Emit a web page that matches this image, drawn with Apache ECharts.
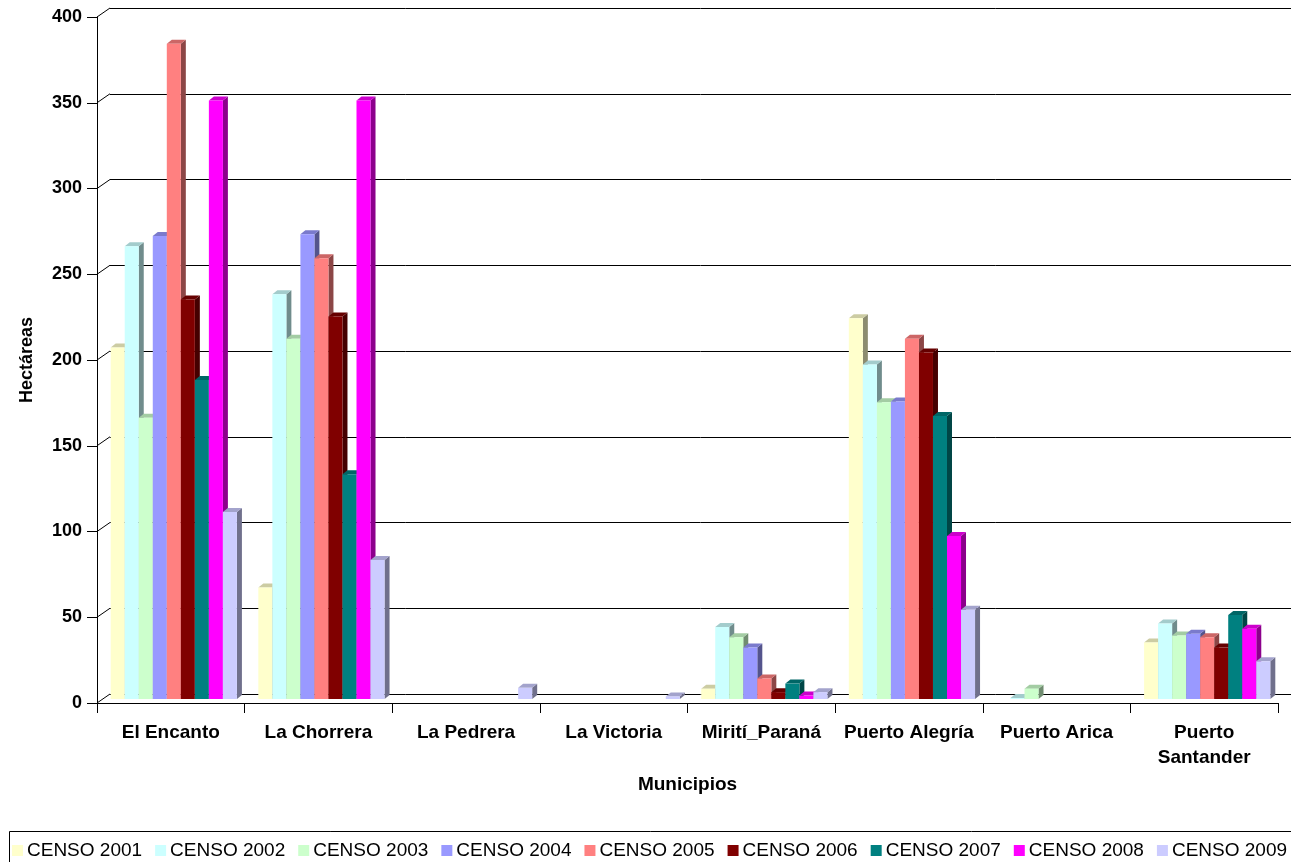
<!DOCTYPE html>
<html>
<head>
<meta charset="utf-8">
<script src="https://cdn.jsdelivr.net/npm/echarts@6/dist/echarts.min.js"></script>
<style>
html,body{margin:0;padding:0;background:#fff;}
#chart{width:1291px;height:862px;}
</style>
</head>
<body>
<div id="chart"></div>
<script>
// ---- data ----
const categories = ['El Encanto', 'La Chorrera', 'La Pedrera', 'La Victoria', 'Mirití_Paraná', 'Puerto Alegría', 'Puerto Arica', 'Puerto\nSantander'];
const seriesNames = ['CENSO 2001', 'CENSO 2002', 'CENSO 2003', 'CENSO 2004', 'CENSO 2005', 'CENSO 2006', 'CENSO 2007', 'CENSO 2008', 'CENSO 2009'];
const censo2001 = [205, 65, null, null, 6, 222, null, 33];
const censo2002 = [264, 236, null, null, 42, 195, 0.6, 44];
const censo2003 = [164, 210, null, null, 36, 173, 6, 37];
const censo2004 = [270, 271, null, null, 30, 173.5, null, 38];
const censo2005 = [382, 257, null, null, 12, 210, null, 36];
const censo2006 = [233, 223, null, null, 4, 202, null, 30];
const censo2007 = [186, 131, null, null, 9, 165, null, 49];
const censo2008 = [349, 349, null, null, 2, 95, null, 41];
const censo2009 = [109, 81, 6.5, 1.5, 4, 52, null, 22];
const yTicks = [0, 50, 100, 150, 200, 250, 300, 350, 400];

const seriesValues = [censo2001, censo2002, censo2003, censo2004, censo2005, censo2006, censo2007, censo2008, censo2009];
const colors = ['#FFFFCC', '#CCFFFF', '#CCFFCC', '#9999FF', '#FF8080', '#800000', '#008080', '#FF00FF', '#CCCCFF'];

function shade(hex, f) {
  const n = parseInt(hex.slice(1), 16);
  const r = Math.round(((n >> 16) & 255) * f), g = Math.round(((n >> 8) & 255) * f), b = Math.round((n & 255) * f);
  return 'rgb(' + r + ',' + g + ',' + b + ')';
}

const FONT = '"Liberation Sans", Arial, sans-serif';
const nSeries = seriesValues.length;

function makeBarSeries(idx) {
  const col = colors[idx];
  return {
    name: seriesNames[idx],
    type: 'custom',
    xAxisIndex: 1,
    yAxisIndex: 1,
    itemStyle: { color: col },
    data: seriesValues[idx].map((v, i) => [i, v == null ? '-' : v]),
    renderItem: function (params, api) {
      const v = api.value(1);
      if (v == null || isNaN(v)) return null;
      const cat = api.value(0);
      const base = api.coord([cat, 0]);
      const top = api.coord([cat, v]);
      const band = api.size([1, 0])[0];
      const groupW = band * 0.855;
      const w = groupW / nSeries;
      const x0 = base[0] - groupW / 2 + 3 + idx * w;
      const yb = base[1] - 4;
      const yt = top[1] - 4;
      const dx = 5, dy = 4;
      return {
        type: 'group',
        children: [
          { type: 'polygon', shape: { points: [[x0 + w, yt], [x0 + w + dx, yt - dy], [x0 + w + dx, yb - dy], [x0 + w, yb]] }, style: { fill: shade(col, 0.55) } },
          { type: 'polygon', shape: { points: [[x0, yt], [x0 + dx, yt - dy], [x0 + w + dx, yt - dy], [x0 + w, yt]] }, style: { fill: shade(col, 0.8) } },
          { type: 'rect', shape: { x: x0, y: yt, width: w, height: yb - yt }, style: { fill: col } }
        ]
      };
    }
  };
}

const series = [];
// diagonal connectors from front axis ticks to back wall
series.push({
  type: 'custom',
  xAxisIndex: 1, yAxisIndex: 1,
  silent: true,
  legendHoverLink: false,
  data: yTicks.map(t => [0, t]),
  renderItem: function (params, api) {
    const p = api.coord([0, api.value(1)]);
    const band = api.size([1, 0])[0];
    const x = p[0] - band / 2;
    return { type: 'line', shape: { x1: x, y1: p[1], x2: x + 13, y2: p[1] - 9 }, style: { stroke: '#000', lineWidth: 1 } };
  },
  z: 1
});
for (let i = 0; i < nSeries; i++) series.push(makeBarSeries(i));

const chart = echarts.init(document.getElementById('chart'), null, { renderer: 'canvas' });
chart.setOption({
  backgroundColor: '#fff',
  animation: false,
  textStyle: { fontFamily: FONT },
  graphic: [{
    type: 'rect', left: 7, top: 829,
    shape: { width: 1283, height: 40 },
    style: { fill: 'none', stroke: '#000', lineWidth: 1 }, z: 0
  }],
  legend: {
    data: seriesNames,
    left: 12, top: 841,
    width: 1279,
    padding: 0,
    itemWidth: 11, itemHeight: 11, itemGap: 13,
    icon: 'rect',
    textStyle: { fontSize: 19, color: '#000', fontFamily: FONT, padding: [0, 0, 0, -1] }
  },
  grid: [
    { left: 110, top: 8, right: 0, bottom: 168 },
    { left: 97, top: 17, right: 13, bottom: 159 }
  ],
  xAxis: [
    { gridIndex: 0, type: 'category', data: categories, show: false },
    {
      gridIndex: 1, type: 'category', data: categories,
      axisLine: { lineStyle: { color: '#000', width: 1 } },
      axisTick: { show: true, length: 10, lineStyle: { color: '#000' } },
      axisLabel: { fontSize: 19, fontWeight: 'bold', color: '#000', margin: 17, lineHeight: 25, fontFamily: FONT, interval: 0 },
      name: 'Municipios', nameLocation: 'middle', nameGap: 72,
      nameTextStyle: { fontSize: 19, fontWeight: 'bold', color: '#000', fontFamily: FONT }
    }
  ],
  yAxis: [
    {
      gridIndex: 0, type: 'value', min: 0, max: 400, interval: 50,
      axisLine: { show: false }, axisTick: { show: false }, axisLabel: { show: false },
      splitLine: { show: true, lineStyle: { color: '#000', width: 1 } }
    },
    {
      gridIndex: 1, type: 'value', min: 0, max: 400, interval: 50,
      axisLine: { show: true, lineStyle: { color: '#000', width: 1 } },
      axisTick: { show: true, length: 10, lineStyle: { color: '#000' } },
      axisLabel: { fontSize: 18, fontWeight: 'bold', color: '#000', margin: 15, fontFamily: FONT },
      splitLine: { show: false },
      name: 'Hectáreas', nameLocation: 'middle', nameGap: 61, nameRotate: 90,
      nameTextStyle: { fontSize: 18, fontWeight: 'bold', color: '#000', fontFamily: FONT }
    }
  ],
  series: series
});
</script>
</body>
</html>
